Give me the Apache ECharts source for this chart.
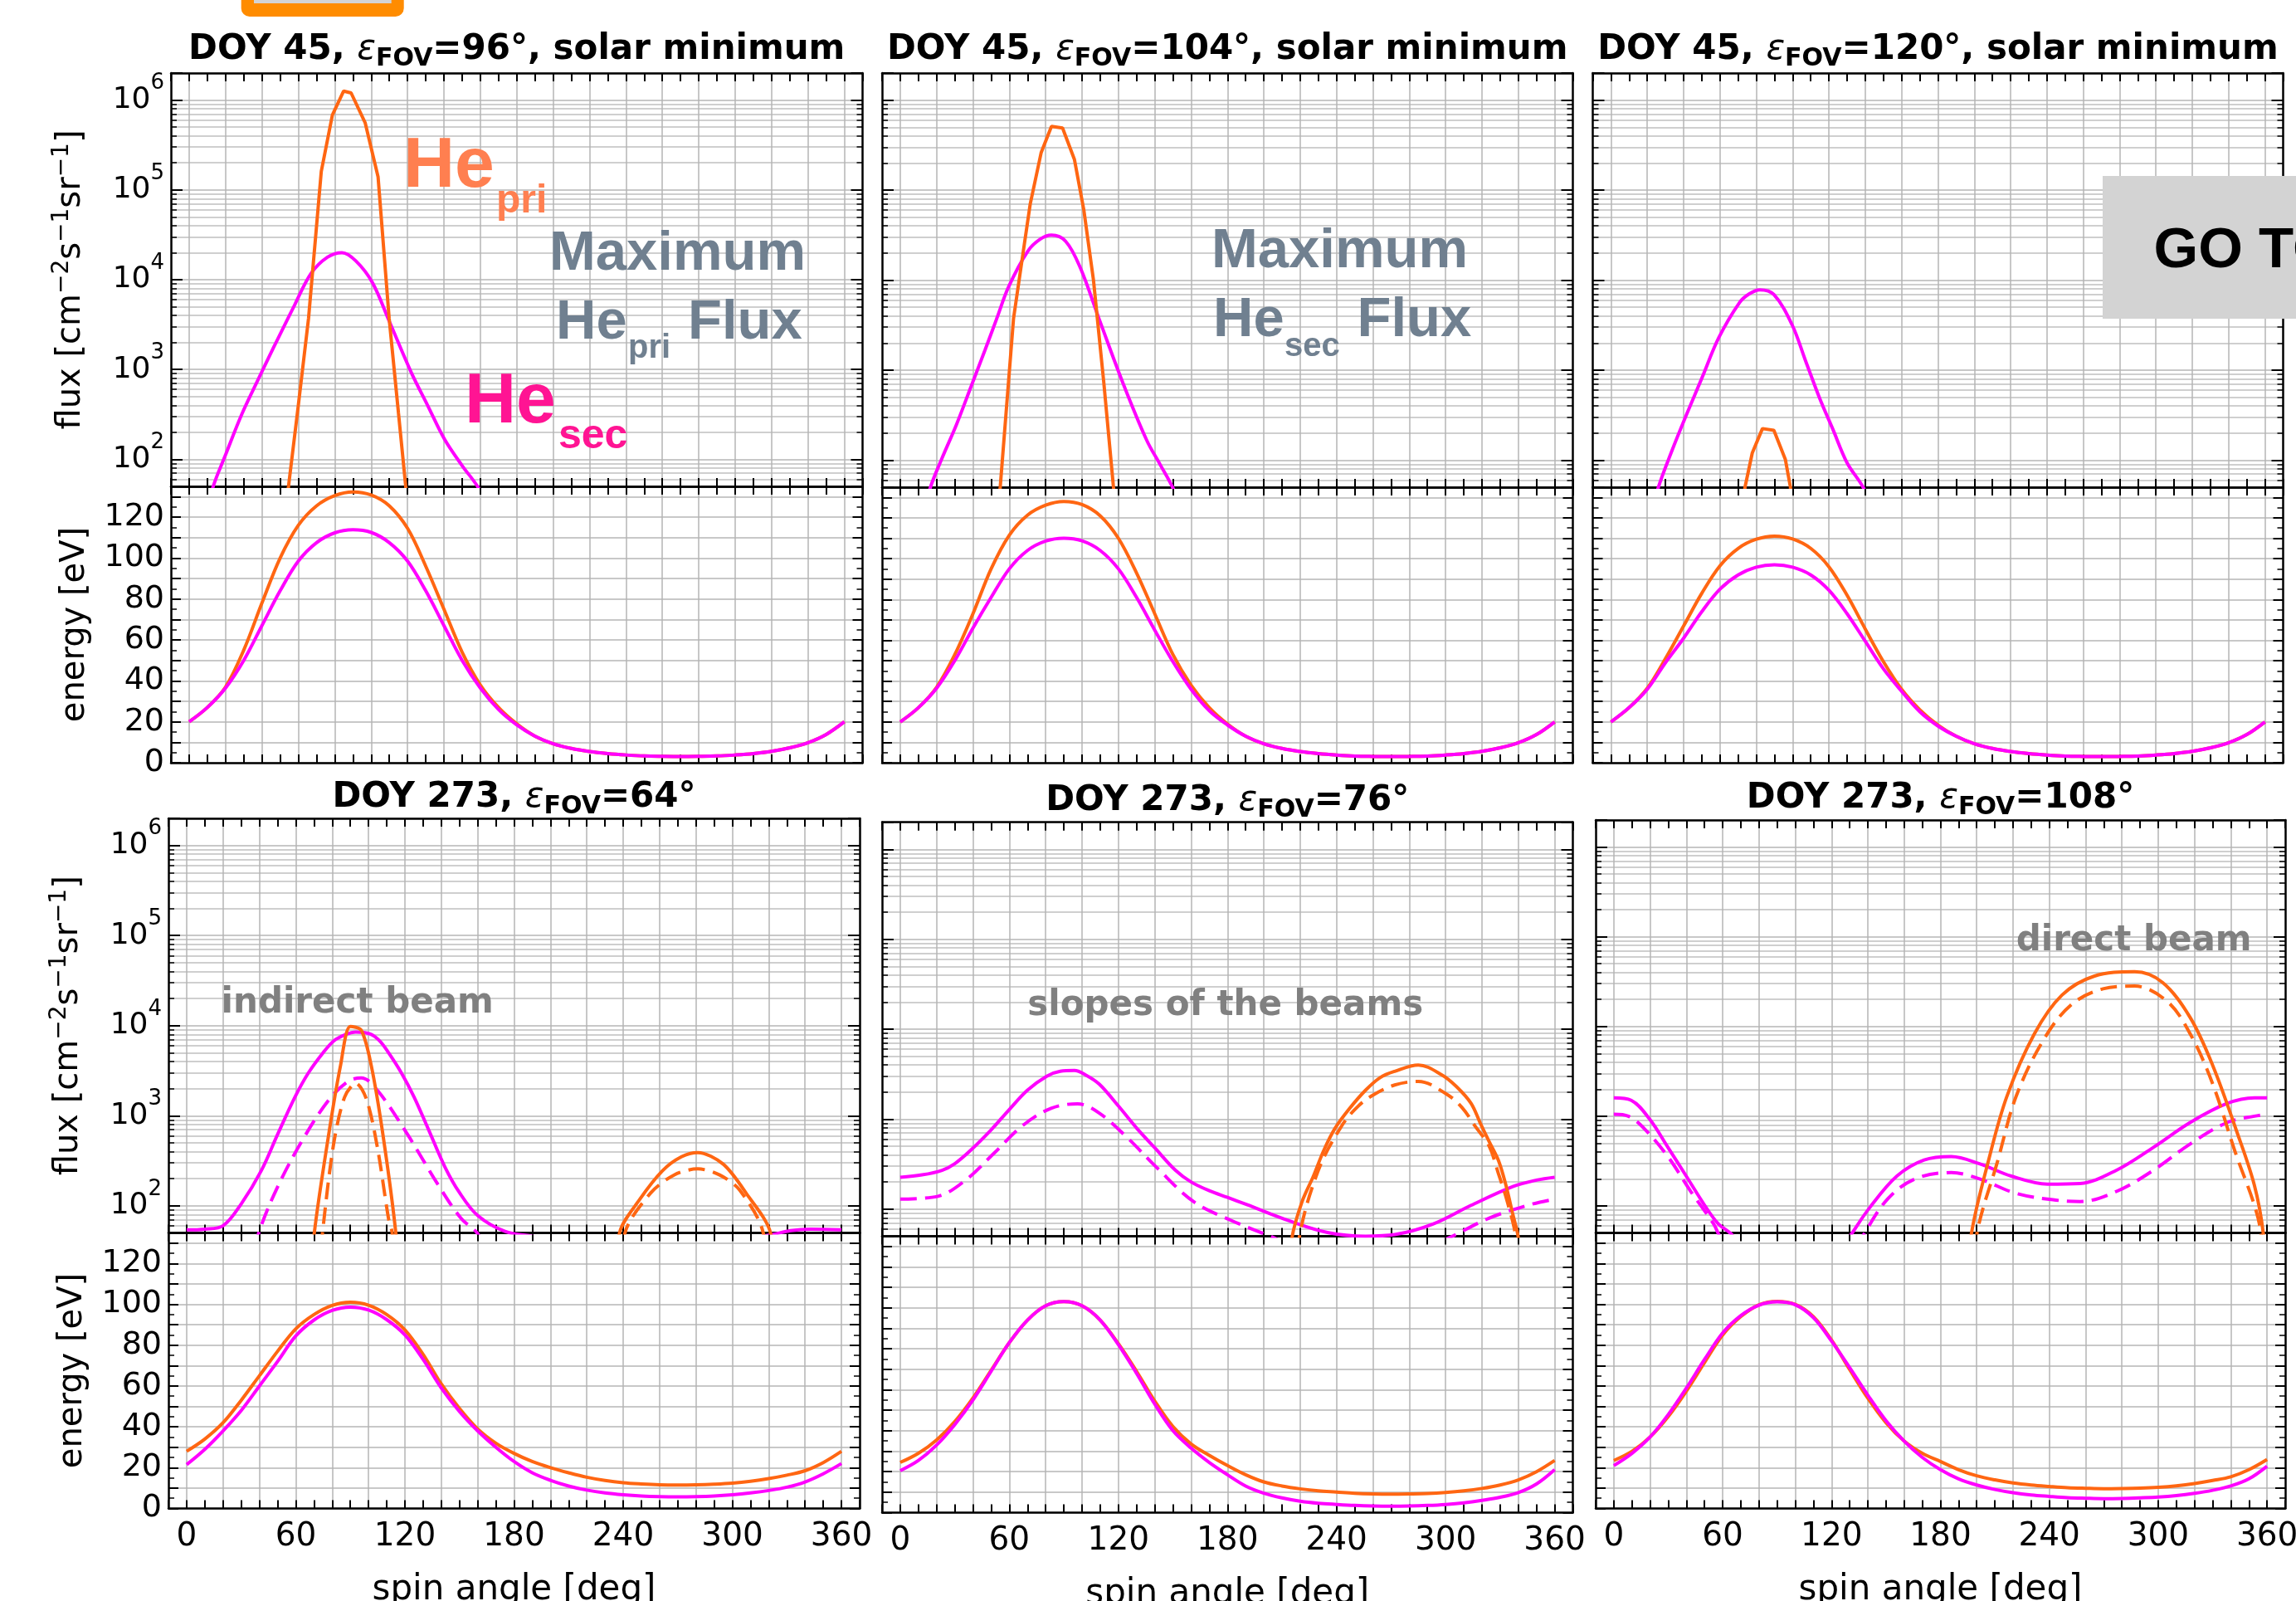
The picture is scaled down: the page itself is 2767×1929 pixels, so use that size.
<!DOCTYPE html>
<html>
<head>
<meta charset="utf-8">
<script src="https://cdn.jsdelivr.net/npm/echarts@6/dist/echarts.min.js"></script>
<style>
  html, body { margin: 0; padding: 0; background: #fff; }
  #chart { width: 2767px; height: 1929px; }
</style>
</head>
<body>
<div id="chart"></div>
<script>
// spin angles used for the energy curves [deg]
const energyAngles = [0,10,20,30,40,50,60,70,80,90,100,110,120,130,140,150,160,170,180,
  190,200,210,220,230,240,250,260,270,280,290,300,310,320,330,340,350,360];

// energy tail (190..360 deg) shared by He pri and He sec on DOY 45
const enTail45 = [13,9.3,7,5.5,4.5,3.8,3.3,3.1,3,3.1,3.3,3.8,4.5,5.6,7.3,9.8,13.8,20];

// ---- DOY 45, eFOV = 96 ----
const fluxPri96 = [[48,5],[54.6,50],[60,400],[65.6,3700],[72.6,1.6e5],[78.7,6.8e5],[84.9,1.26e6],[89,1.2e6],
  [96.7,5.6e5],[103.8,1.4e5],[109.9,3700],[115,330],[119,50],[124,5]];
const fluxSec96 = [[0,1],[8,18],[13.1,49],[20,112],[29,320],[38,780],[45.8,1660],[58,5250],[67,11750],[76,17800],
  [84,20000],[91.6,16200],[100.7,9300],[109.9,3470],[122,930],[131,400],[140.4,166],[150,85],[158.7,49],[166,25],[180,5]];
const enPri96 = [20,27,37,55,78,100,116,125.5,130.5,132.3,130.8,125.5,114.5,96,75,54,38,27,19].concat(enTail45);
const enSec96 = [20,27,36.5,50,67,84,98.5,107.5,112.3,113.8,112.5,107.5,98.5,84,67,50,36.5,26,18.5].concat(enTail45);

// ---- DOY 45, eFOV = 104 ----
const fluxPri104 = [[50,5],[55,50],[62.3,3700],[68,2.3e4],[71.5,7e4],[77.5,2.6e5],[83.2,5.1e5],[89.3,4.9e5],
  [95.8,2.2e5],[101,6e4],[106.3,1e4],[112,720],[117.3,50],[122,5]];
const fluxSec104 = [[0,1],[10,15],[16.5,49],[23,105],[31,250],[39,660],[46.6,1660],[53,3700],[59.7,8500],[70.2,21000],
  [77,28500],[83.2,31600],[91,27000],[99,13800],[109.4,3700],[122.5,720],[135.6,166],[143,89],[150,49],[158,20]];
const enPri104 = [20,27,37,53,73,95,111.5,121.3,126.2,128,126.5,121,110,93,73,53,38,27,19].concat(enTail45);
const enSec104 = [20,27,36.5,50,66,81,95,104,108.6,110,108.7,104,95,81,65,49.5,36,25.5,18.5].concat(enTail45);

// ---- DOY 45, eFOV = 120 ----
const fluxPri120 = [[70,5],[73.8,50],[77.8,120],[83.4,224],[89.7,214],[96,102],[98.8,50],[102,5]];
const fluxSec120 = [[0,0.5],[15,8],[26,49],[33.5,126],[41.7,324],[50,810],[59.4,2300],[70.7,5600],[76,7000],[82,7800],
  [89.7,6900],[99.8,3160],[107,1290],[115,480],[122,224],[130,93],[139,49],[150,15]];
const enPri120 = [20,27,36.5,51,67,83,96.5,105,109.5,111,109.6,105,96,82,65.5,49.5,36,26,18.5].concat(enTail45);
const enSec120 = [20,27,36,49,61,74,85,92,95.8,97,95.8,92,84.5,73,59.5,46,35,25,18].concat(enTail45);

// ---- DOY 273, eFOV = 64 ----
const fluxPri64 = [[66,5],[70.2,50],[78,600],[84.6,3600],[90,9800],[96,8900],[101.5,3600],[108,600],[115,50],[119,5],
  [234,5],[238,50],[249,117],[261.6,245],[272,350],[281,390],[295,290],[307.6,138],[321,50],[325,5]];
const fluxPriDash64 = [[70,5],[74.7,50],[80.7,470],[86.8,1600],[93,2300],[99,1500],[105,430],[111,72],[113,50],[117,5],
  [237,5],[241,50],[255,138],[268,220],[281,257],[293,220],[304,150],[317,50],[320,5]];
const fluxSec64 = [[0,54],[10,55],[20,60],[30,105],[41,245],[50,620],[59.6,1620],[67,3000],[75,5000],[81,6800],[87,7900],
  [93,8500],[100.7,8100],[106,6800],[111,5000],[118,3000],[125,1620],[133,700],[142,270],[150,140],[160,78],[175,52],
  [190,46],[210,40],[240,37],[270,37],[300,40],[322,48],[332,53],[343,55],[360,54]];
const fluxSecDash64 = [[30,10],[39.5,49],[50,162],[64,550],[78,1480],[88.7,2400],[96,2630],[105,1900],[120.6,660],
  [139,162],[151,72],[160,49],[170,20]];
const enPri64 = [28,34,42,53,65,77,88,95,99.5,101,99.6,95,87.5,75.5,61,49,39,32,27,23,20,17.5,15.3,13.7,12.6,12,
  11.6,11.5,11.6,11.9,12.4,13.3,14.6,16.3,18.5,22.5,28];
const enSec64 = [21.5,29,38,48,60,72,84.5,92.3,97,98.6,97.2,92.5,85,73,59,47.5,38,30,23,17.5,13.8,11,9,7.6,6.7,6.1,
  5.8,5.7,5.8,6.1,6.7,7.6,8.8,10.4,13,17,22];

// ---- DOY 273, eFOV = 76 ----
const fluxPri76 = [[210,5],[215.5,48],[221,120],[227.2,230],[233,450],[239,780],[247,1300],[256,2100],[264,2900],
  [272,3400],[285,4000],[298,3100],[306,2300],[314,1500],[319,910],[324,560],[329,350],[333,190],[337,87],[340,48],[343,10]];
const fluxPriDash76 = [[215,5],[219.5,48],[230,270],[243,850],[252,1400],[261,1900],[272,2400],[285,2630],[300.5,1900],
  [309,1350],[316,850],[324,500],[329,250],[334,120],[338.6,48],[342,5]];
const fluxSec76 = [[0,226],[12,240],[23,270],[30,320],[38.7,450],[50,760],[59.7,1260],[70,2100],[80.6,3000],[88,3400],
  [95.8,3470],[102,3100],[109.5,2450],[120,1400],[130.4,780],[140,480],[151.4,270],[160,200],[170,160],[180,135],
  [190.7,112],[214,74],[235,55],[256,50],[272,52],[293,68],[314,110],[337,178],[350,210],[360,226]];
const fluxSecDash76 = [[0,129],[20.4,138],[36,210],[51.7,420],[67.4,850],[83,1320],[97.5,1480],[109.3,1175],[125,620],
  [140.7,295],[161.6,120],[182.6,74],[203.5,50],[215,40],[250,30],[290,38],[302,48],[323.8,79],[345,110],[360,129]];
const enPri76 = [24.5,29,35.5,44.5,56,69.5,83,94,101,103,101,94,82.5,69,54.5,42,33.5,28,23,18.5,15,13,11.6,10.6,10,
  9.4,9.1,9,9.1,9.3,9.8,10.6,11.8,13.5,16,20,25.5];
const enSec76 = [20.5,25.5,33,43,55,69,83,94,101,103,101,94,82,68,53,40,31.5,24.5,18.5,13,9.5,7.2,5.6,4.6,4,3.5,3.2,
  3.1,3.2,3.5,4,4.8,6,7.5,9.8,14,21];

// ---- DOY 273, eFOV = 108 ----
const fluxPri108 = [[192,5],[197,48],[206.5,320],[216.6,1660],[231.8,8300],[247,22400],[264.6,36300],[287,40700],
  [302.4,30900],[317.6,12600],[330,3700],[342.8,720],[353,170],[358,48],[362,5]];
const fluxPriDash108 = [[195,5],[200,48],[211.6,320],[221.7,1660],[236.8,7100],[252,17400],[269.6,26300],[287,28200],
  [305,19000],[317.6,8300],[330,2300],[342.8,380],[353,102],[356.7,48],[360,5]];
const fluxSec108 = [[0,1600],[9.6,1500],[19.7,930],[29.8,450],[39.9,215],[50,102],[57.6,63],[65,48],[72,30],[100,15],
  [124,30],[130.8,48],[140.9,95],[156,215],[171,325],[186,355],[201.5,295],[219,215],[239,175],[257,178],[277,250],
  [297.4,450],[317.6,850],[337.8,1380],[353,1600],[360,1600]];
const fluxSecDash108 = [[0,1050],[8,1000],[17,720],[30,350],[42.4,145],[55,63],[57.6,49],[65,25],[100,10],[130,25],
  [138,49],[151,120],[166,200],[186,235],[201.5,200],[221.7,138],[242,117],[257,112],[277,145],[297.4,250],[317.6,490],
  [338,850],[353,1000],[360,1050]];
const enPri108 = [23.5,28,35,45,57.5,71.5,85,94,99.8,101.5,100,94,82.5,68,54,42,33,27,23,19,16,14,12.5,11.5,10.8,
  10.2,9.9,9.7,9.8,10,10.4,11.1,12.2,13.7,15.5,19,24];
const enSec108 = [21,27,35,46,59,73,86,94.5,99.6,101.2,99.8,93.5,82,69,55.5,43,33,25,19,14.5,11.5,9.3,7.7,6.6,5.9,5.3,5,
  4.8,4.9,5.2,5.6,6.3,7.4,8.9,11,14.5,20.7];

const PRI = '#ff6612';
const SEC = '#ff00ff';
const FONT = '"DejaVu Sans"';
const DASH = [20, 10];

const panels = [
  { title: 'DOY 45, {e|ε}{s|FOV}=96°, solar minimum',
    flux: [[fluxSec96, SEC, 'solid', 0.35], [fluxPri96, PRI, 'solid', 0]], energy: [enPri96, enSec96] },
  { title: 'DOY 45, {e|ε}{s|FOV}=104°, solar minimum',
    flux: [[fluxSec104, SEC, 'solid', 0.35], [fluxPri104, PRI, 'solid', 0]], energy: [enPri104, enSec104] },
  { title: 'DOY 45, {e|ε}{s|FOV}=120°, solar minimum',
    flux: [[fluxSec120, SEC, 'solid', 0.35], [fluxPri120, PRI, 'solid', 0]], energy: [enPri120, enSec120] },
  { title: 'DOY 273, {e|ε}{s|FOV}=64°',
    flux: [[fluxSec64, SEC, 'solid', 0.35], [fluxSecDash64, SEC, DASH, 0.35], [fluxPri64, PRI, 'solid', 0.3],
      [fluxPriDash64, PRI, DASH, 0.3]], energy: [enPri64, enSec64] },
  { title: 'DOY 273, {e|ε}{s|FOV}=76°',
    flux: [[fluxSec76, SEC, 'solid', 0.35], [fluxSecDash76, SEC, DASH, 0.35], [fluxPri76, PRI, 'solid', 0.35],
      [fluxPriDash76, PRI, DASH, 0.35]], energy: [enPri76, enSec76] },
  { title: 'DOY 273, {e|ε}{s|FOV}=108°',
    flux: [[fluxSec108, SEC, 'solid', 0.35], [fluxSecDash108, SEC, DASH, 0.35], [fluxPri108, PRI, 'solid', 0.35],
      [fluxPriDash108, PRI, DASH, 0.35]], energy: [enPri108, enSec108] }
];

// panel boxes in px: left, width, flux top, flux/energy split, energy bottom, title top
const boxes = [
  { left: 206, width: 833.5, top: 88, split: 586, bottom: 919, titleTop: 34, col: 0, row: 0 },
  { left: 1063, width: 832.5, top: 88, split: 587, bottom: 919, titleTop: 34, col: 1, row: 0 },
  { left: 1919.5, width: 832, top: 88, split: 587, bottom: 919, titleTop: 34, col: 2, row: 0 },
  { left: 203, width: 833, top: 986, split: 1485.5, bottom: 1817.5, titleTop: 935, col: 0, row: 1 },
  { left: 1063, width: 832.5, top: 990.7, split: 1489.4, bottom: 1822.5, titleTop: 939.5, col: 1, row: 1 },
  { left: 1923, width: 831, top: 988, split: 1485.5, bottom: 1817.5, titleTop: 936, col: 2, row: 1 }
];

const axisLine = { show: true, onZero: false, lineStyle: { color: '#000', width: 2.5 } };
const tickStyle = { color: '#000', width: 2 };

function fluxLabel(v) {
  const l = Math.log10(v);
  const e = Math.round(l);
  if (Math.abs(l - e) > 1e-6) return '';
  return '10{sup|' + e + '}';
}

function makeX(gridIndex, position, withLabels) {
  return {
    type: 'value', gridIndex, position, min: -10, max: 370, interval: 10,
    axisLine, axisTick: { show: true, inside: true, length: 10, lineStyle: tickStyle },
    axisLabel: {
      show: withLabels, margin: 15, fontSize: 39, fontFamily: FONT, color: '#000',
      formatter: v => { const r = Math.round(v); return (r >= 0 && r <= 360 && r % 60 === 0) ? String(r) : ''; }
    },
    splitLine: { show: position === 'bottom', lineStyle: { color: ['rgba(0,0,0,0)', '#b4b4b4'], width: 1.5 } },
    name: withLabels ? 'spin angle [deg]' : '', nameLocation: 'middle', nameGap: 78,
    nameTextStyle: { fontSize: 42, fontFamily: FONT, color: '#000' }
  };
}

function makeFluxY(gridIndex, position, withLabels) {
  return {
    type: 'log', logBase: 10, gridIndex, position, min: 50, max: 2e6,
    axisLine, axisTick: { show: true, inside: true, length: 14, lineStyle: tickStyle },
    minorTick: { show: true, splitNumber: 9, length: 7, lineStyle: { color: '#000', width: 1.5 } },
    axisLabel: {
      show: withLabels, margin: 8, fontSize: 36, fontFamily: FONT, color: '#000', formatter: fluxLabel,
      rich: { sup: { fontSize: 26, fontFamily: FONT, color: '#000', padding: [0, 0, 40, 0] } }
    },
    splitLine: { show: position === 'left', lineStyle: { color: '#c8c8c8', width: 2 } },
    minorSplitLine: { show: position === 'left', lineStyle: { color: '#cfcfcf', width: 2 } },
    name: withLabels ? 'flux [cm{s|−2}s{s|−1}sr{s|−1}]' : '', nameLocation: 'middle', nameGap: 95,
    nameTextStyle: {
      fontSize: 40, fontFamily: FONT, color: '#000',
      rich: { s: { fontSize: 28, fontFamily: FONT, color: '#000', padding: [0, 0, 22, 0] } }
    }
  };
}

function makeEnergyY(gridIndex, position, withLabels) {
  return {
    type: 'value', gridIndex, position, min: 0, max: 135, interval: 10,
    axisLine, axisTick: { show: true, inside: true, length: 12, lineStyle: tickStyle },
    minorTick: { show: true, splitNumber: 2, length: 7, lineStyle: { color: '#000', width: 1.5 } },
    axisLabel: {
      show: withLabels, margin: 8, fontSize: 38, fontFamily: FONT, color: '#000',
      formatter: v => { const r = Math.round(v); return (r % 20 === 0 && r <= 120) ? String(r) : ''; }
    },
    splitLine: { show: position === 'left', lineStyle: { color: '#c8c8c8', width: 2 } },
    name: withLabels ? 'energy [eV]' : '', nameLocation: 'middle', nameGap: 95,
    nameTextStyle: { fontSize: 40, fontFamily: FONT, color: '#000' }
  };
}

const grid = [], xAxis = [], yAxis = [], series = [], title = [];

panels.forEach((p, i) => {
  const b = boxes[i];
  const gF = grid.length;
  grid.push({ left: b.left, top: b.top, width: b.width, height: b.split - b.top, containLabel: false, outerBoundsMode: 'none' });
  const gE = grid.length;
  grid.push({ left: b.left, top: b.split, width: b.width, height: b.bottom - b.split, containLabel: false, outerBoundsMode: 'none' });

  xAxis.push(makeX(gF, 'bottom', false), makeX(gF, 'top', false));
  xAxis.push(makeX(gE, 'bottom', b.row === 1), makeX(gE, 'top', false));
  yAxis.push(makeFluxY(gF, 'left', b.col === 0), makeFluxY(gF, 'right', false));
  yAxis.push(makeEnergyY(gE, 'left', b.col === 0), makeEnergyY(gE, 'right', false));

  p.flux.forEach(([data, color, type, smooth]) => {
    series.push({
      type: 'line', xAxisIndex: 2 * gF, yAxisIndex: 2 * gF, data, symbol: 'none', smooth,
      lineStyle: { color, width: 4, type }, animation: false, z: 3
    });
  });
  [[p.energy[0], PRI], [p.energy[1], SEC]].forEach(([vals, color]) => {
    series.push({
      type: 'line', xAxisIndex: 2 * gE, yAxisIndex: 2 * gE, symbol: 'none', smooth: 0.35,
      data: energyAngles.map((a, k) => [a, vals[k]]),
      lineStyle: { color, width: 4 }, animation: false, z: 3
    });
  });

  title.push({
    text: p.title, left: b.left + b.width / 2, top: b.titleTop, textAlign: 'center', padding: 0,
    textStyle: {
      fontFamily: FONT, fontWeight: 'bold', fontSize: 42, color: '#000',
      rich: {
        e: { fontFamily: FONT, fontStyle: 'italic', fontWeight: 'normal', fontSize: 42, color: '#000' },
        s: { fontFamily: FONT, fontWeight: 'bold', fontSize: 30, color: '#000', padding: [22, 0, 0, 0] }
      }
    }
  });
});

function label(text, x, baseline, size, color, family) {
  const fam = family || '"Liberation Sans"';
  return {
    type: 'text', x, y: baseline - 0.35 * size, z: 10,
    style: { text, font: 'bold ' + size + 'px ' + fam, fill: color, align: 'left', verticalAlign: 'middle' }
  };
}

const CORAL = '#ff7f50', PINK = '#ff1493', SLATE = '#708090', GREY = '#808080';

const graphic = [
  { type: 'rect', shape: { x: 290.7, y: -30, width: 196, height: 50, r: 10 }, style: { fill: '#ff8c00' }, z: 10 },
  { type: 'rect', shape: { x: 306, y: -30, width: 165.7, height: 34 }, style: { fill: '#d3d3d3' }, z: 11 },
  label('He', 486, 231.7, 86, CORAL),
  label('pri', 598, 260, 48, CORAL),
  label('Maximum', 662, 330, 67, SLATE),
  label('He', 670, 412.5, 67, SLATE),
  label('pri', 757, 434, 40, SLATE),
  label('Flux', 829, 412.5, 67, SLATE),
  label('He', 560, 515, 86, PINK),
  label('sec', 673, 543.5, 50, PINK),
  label('Maximum', 1460, 327, 67, SLATE),
  label('He', 1462, 409.5, 67, SLATE),
  label('sec', 1548, 431.7, 40, SLATE),
  label('Flux', 1635.5, 409.5, 67, SLATE),
  { type: 'rect', shape: { x: 2534, y: 212, width: 300, height: 172 }, style: { fill: '#d3d3d3' }, z: 10 },
  label('GO TO', 2595.6, 327, 69, '#000'),
  label('indirect beam', 266.6, 1223.4, 42, GREY, FONT),
  label('slopes of the beams', 1238.3, 1227, 42, GREY, FONT),
  label('direct beam', 2429.7, 1148.8, 42, GREY, FONT)
];

const chart = echarts.init(document.getElementById('chart'), null, { renderer: 'canvas' });
chart.setOption({
  backgroundColor: '#fff',
  animation: false,
  title, grid, xAxis, yAxis, series, graphic
});
</script>
</body>
</html>
